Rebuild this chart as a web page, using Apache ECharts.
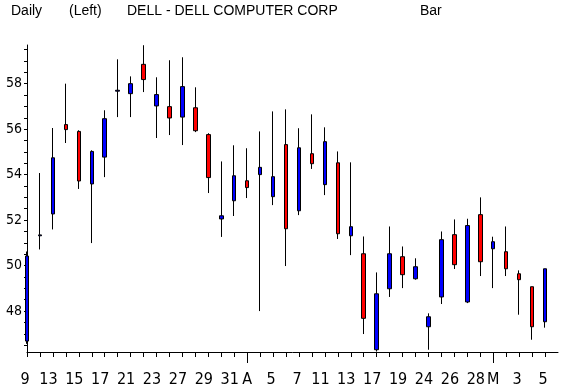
<!DOCTYPE html>
<html><head><meta charset="utf-8">
<script src="https://cdn.jsdelivr.net/npm/echarts@6/dist/echarts.min.js"></script>
<style>html,body{margin:0;padding:0;background:#fff}#c{width:561px;height:388px}</style>
</head><body><div id="c"></div>
<script>
// Trading days, Mar 9 2000 .. May 5 2000
const dates = ['9','10','13','14','15','16','17','20','21','22','23','24','27','28','29','30','31',
  '3','4','5','6','7','10','11','12','13','14','17','18','19','20','24','25','26','27','28',
  '1','2','3','4','5'];
const tickLabels = ['9','','13','','15','','17','','21','','23','','27','','29','','31','A','','5','','7','','11','','13','','17','','19','','24','','26','','28','M','','3','','5'];
const monthStarts = [17, 36];
const opens  = [46.68,51.31,52.27,56.20,55.90,53.59,54.77,57.67,57.56,58.85,57.02,56.99,56.53,56.94,55.76,52.05,52.85,53.73,54.00,53.03,55.32,52.41,54.92,53.56,54.52,51.31,50.52,46.30,48.98,50.39,49.42,47.31,48.62,51.36,48.40,52.24,50.74,50.61,49.64,49.07,47.53];
const closes = [50.42,51.35,54.74,55.98,53.72,55.02,56.46,57.71,58.00,58.18,57.52,56.49,57.87,55.93,53.87,52.19,53.95,53.43,54.32,53.91,51.62,55.18,54.48,55.45,51.40,51.71,47.68,48.76,50.52,49.60,49.95,47.75,51.14,50.04,51.76,50.17,51.05,49.86,49.38,47.31,49.86];
const lows   = [46.56,50.71,51.59,55.39,53.37,50.99,53.89,56.53,56.53,57.63,55.61,55.74,55.30,55.87,53.19,51.26,52.18,52.97,48.00,52.66,49.98,52.22,54.25,53.10,51.17,50.46,46.99,46.22,48.62,49.01,49.38,46.30,48.31,49.85,48.35,49.54,49.01,49.54,47.84,46.74,47.27];
const highs  = [50.62,54.07,56.05,58.00,55.95,55.07,56.83,59.07,58.32,59.69,58.28,59.03,59.16,57.84,55.82,54.58,55.29,55.16,55.90,56.78,56.87,56.04,56.65,56.08,55.02,54.54,51.28,49.70,51.72,50.84,50.32,47.90,51.50,52.03,52.06,53.00,51.27,51.72,49.79,49.07,49.86];
const yLabelValues = [48,50,52,54,56,58];
const yTickValues = [46.5,47,47.5,48,48.5,49,49.5,50,50.5,51,51.5,52,52.5,53,53.5,54,54.5,55,55.5,56,56.5,57,57.5,58,58.5,59,59.5];

const axisCats = dates.concat(['']);
const candles = opens.map((o, i) => [o, closes[i], lows[i], highs[i]]);
const narrow = '"Liberation Sans Narrow", "DejaVu Sans Condensed", sans-serif';
const titleFont = {fontFamily: '"Liberation Sans", Arial, sans-serif', fontSize: 14, fontWeight: 'normal', color: '#000'};

const chart = echarts.init(document.getElementById('c'), null, {renderer: 'canvas'});
chart.setOption({
  animation: false,
  backgroundColor: '#fff',
  title: [
    {text: 'Daily', left: 11, top: 4, padding: 0, textStyle: titleFont},
    {text: '(Left)', left: 69, top: 4, padding: 0, textStyle: titleFont},
    {text: 'DELL - DELL COMPUTER CORP', left: 127, top: 4, padding: 0, textStyle: titleFont},
    {text: 'Bar', left: 420, top: 4, padding: 0, textStyle: titleFont}
  ],
  grid: {left: 27, right: 1, top: 45, bottom: 36, containLabel: false},
  xAxis: [{
    type: 'category', data: axisCats, boundaryGap: false,
    axisLine: {lineStyle: {color: '#000', width: 1}},
    axisTick: {length: 5, lineStyle: {color: '#000'}, interval: (i) => i < dates.length},
    axisLabel: {
      interval: 0, margin: 20, color: '#000', fontFamily: narrow, fontSize: 16,
      formatter: (v, i) => {
        const t = tickLabels[i] || '';
        if (!t) return '';
        if (/^[A-Z]$/.test(t)) return t;
        return t.length > 1 ? '{d2|' + t + '}' : '{d1|' + t + '}';
      },
      rich: {
        d2: {padding: [0, 9, 0, 0], fontFamily: narrow, fontSize: 16, color: '#000'},
        d1: {padding: [0, 4, 0, 0], fontFamily: narrow, fontSize: 16, color: '#000'}
      }
    },
    splitLine: {show: false}
  }, {
    type: 'category', data: axisCats, boundaryGap: false, position: 'bottom',
    axisLine: {show: false},
    axisTick: {length: 11, lineStyle: {color: '#000'}, interval: (i) => monthStarts.indexOf(i) >= 0},
    axisLabel: {show: false},
    splitLine: {show: false}
  }],
  yAxis: {
    type: 'value', min: 46.2, max: 59.7, scale: true,
    axisLine: {show: true, lineStyle: {color: '#000'}},
    axisTick: {show: true, length: 3, lineStyle: {color: '#000'}, customValues: yTickValues},
    axisLabel: {color: '#000', fontFamily: narrow, fontSize: 14, margin: 5, customValues: yLabelValues},
    splitLine: {show: false}
  },
  series: [{
    type: 'candlestick', xAxisIndex: 0, data: candles, barWidth: 4,
    itemStyle: {color: '#0000ff', color0: '#ff0000', borderColor: '#000', borderColor0: '#000', borderWidth: 1},
    emphasis: {disabled: true}
  }]
});
</script></body></html>
